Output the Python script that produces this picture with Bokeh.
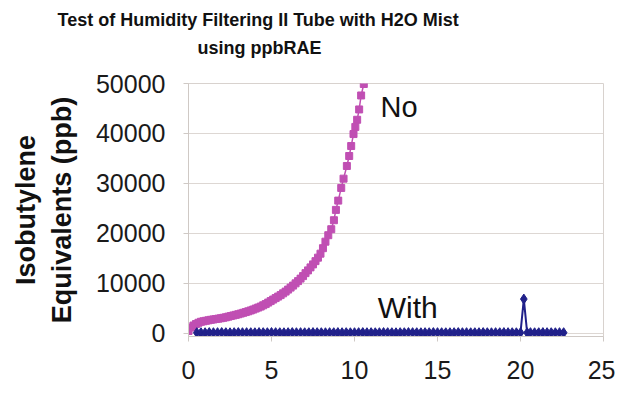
from bokeh.plotting import figure
from bokeh.models import Label, Range1d, FixedTicker, Title
from bokeh.embed import file_html
from bokeh.resources import INLINE

# ---- data ----
title_lines = ["Test of Humidity Filtering II Tube with H2O Mist", "using ppbRAE"]
y_title_lines = ["Isobutylene", "Equivalents (ppb)"]
x_ticks = [0, 5, 10, 15, 20, 25]
y_ticks = [0, 10000, 20000, 30000, 40000, 50000]

no_x = [0.00, 0.15, 0.30, 0.45, 0.60, 0.75, 0.90, 1.05, 1.20, 1.35, 1.50, 1.65, 1.80, 1.95,
        2.10, 2.25, 2.40, 2.55, 2.70, 2.85, 3.00, 3.15, 3.30, 3.45, 3.60, 3.75, 3.90, 4.05,
        4.20, 4.35, 4.50, 4.65, 4.80, 4.95, 5.10, 5.25, 5.40, 5.55, 5.70, 5.85, 6.00, 6.15,
        6.30, 6.45, 6.60, 6.75, 6.90, 7.05, 7.20, 7.35, 7.50, 7.65, 7.80, 7.95, 8.10, 8.25,
        8.42, 8.60, 8.76, 8.88, 9.02, 9.20, 9.34, 9.54, 9.68, 9.80, 9.94, 10.05, 10.16, 10.28,
        10.40, 10.56]
no_y = [400, 1100, 1500, 1800, 2050, 2250, 2350, 2450, 2550, 2650, 2720, 2800, 2880, 2960,
        3050, 3150, 3280, 3400, 3520, 3640, 3760, 3900, 4050, 4200, 4350, 4520, 4700, 4900,
        5100, 5300, 5550, 5800, 6100, 6400, 6700, 7000, 7300, 7600, 7950, 8300, 8700, 9100,
        9500, 9950, 10400, 10900, 11400, 12000, 12550, 13150, 13750, 14400, 15100, 15900, 17000, 18300,
        19600, 20800, 22600, 24670, 26530, 29070, 30930, 33470, 35470, 37470, 39870, 41300, 42730, 44800,
        47600, 49900]

with_x = [0.50, 0.75, 1.00, 1.25, 1.50, 1.75, 2.00, 2.25, 2.50, 2.75, 3.00, 3.25, 3.50, 3.75,
          4.00, 4.25, 4.50, 4.75, 5.00, 5.25, 5.50, 5.75, 6.00, 6.25, 6.50, 6.75, 7.00, 7.25,
          7.50, 7.75, 8.00, 8.25, 8.50, 8.75, 9.00, 9.25, 9.50, 9.75, 10.00, 10.25, 10.50, 10.75,
          11.00, 11.25, 11.50, 11.75, 12.00, 12.25, 12.50, 12.75, 13.00, 13.25, 13.50, 13.75,
          14.00, 14.25, 14.50, 14.75, 15.00, 15.25, 15.50, 15.75, 16.00, 16.25, 16.50, 16.75,
          17.00, 17.25, 17.50, 17.75, 18.00, 18.25, 18.50, 18.75, 19.00, 19.25, 19.50, 19.75,
          20.00, 20.20, 20.40, 20.60, 20.85, 21.10, 21.35, 21.60, 21.85, 22.10, 22.35, 22.60]
with_y = [60, 70, 50, 80, 60, 70, 90, 60, 50, 70, 80, 60, 70, 60,
          50, 80, 70, 60, 90, 70, 60, 50, 70, 80, 60, 70, 50, 60,
          80, 70, 60, 50, 70, 60, 80, 60, 70, 50, 60, 70, 80, 60,
          70, 50, 60, 80, 70, 60, 50, 70, 60, 80, 70, 60,
          50, 70, 60, 80, 70, 60, 50, 60, 70, 80, 60, 70,
          50, 60, 70, 80, 60, 50, 70, 60, 80, 70, 60, 50,
          70, 6800, 60, 70, 50, 60, 80, 70, 60, 50, 70, 60]

series_names = ["No", "With"]

# ---- figure ----
p = figure(width=615, height=403, output_backend="svg", toolbar_location=None,
           x_range=Range1d(0, 25), y_range=Range1d(-700, 50000),
           min_border_left=188, min_border_right=12, min_border_top=83, min_border_bottom=67)
p.background_fill_color = "white"
p.border_fill_color = "white"
p.outline_line_color = "#d8d2ce"

grid_col = "#ddd7d3"
p.xgrid.visible = False
p.ygrid.grid_line_color = grid_col
p.ygrid.ticker = FixedTicker(ticks=y_ticks)

p.xaxis.ticker = FixedTicker(ticks=x_ticks)
p.yaxis.ticker = FixedTicker(ticks=y_ticks)
for ax in (p.xaxis[0], p.yaxis[0]):
    ax.axis_line_color = "#cfc9c5"
    ax.major_tick_line_color = "#cfc9c5"
    ax.major_tick_out = 5
    ax.major_tick_in = 0
    ax.minor_tick_line_color = None
    ax.major_label_text_font = "Liberation Sans"
    ax.major_label_text_font_size = "25px"
    ax.major_label_text_color = "#1a1a1a"
p.xaxis.major_label_standoff = 19
p.yaxis.major_label_standoff = 18

yax = p.yaxis[0]
yax.axis_label = "\n".join(y_title_lines)
yax.axis_label_text_font = "Liberation Sans"
yax.axis_label_text_font_style = "bold"
yax.axis_label_text_font_size = "27px"
yax.axis_label_text_color = "#111111"
yax.axis_label_text_align = "center"
yax.axis_label_text_line_height = 1.2
yax.axis_label_standoff = 16

pink = "#c04fb3"
navy = "#21218a"

p.line(no_x, no_y, line_color=pink, line_width=1.5)
p.scatter(no_x, no_y, marker="square", size=7, fill_color=pink, line_color=pink)
p.line(with_x, with_y, line_color=navy, line_width=2)
p.scatter(with_x, with_y, marker="diamond", size=10, fill_color=navy, line_color=navy)

# series labels
p.add_layout(Label(x=11.57, y=45300, text=series_names[0], text_font="Liberation Sans",
                   text_font_size="29px", text_color="#111111", text_baseline="middle"))
p.add_layout(Label(x=11.4, y=5100, text=series_names[1], text_font="Liberation Sans",
                   text_font_size="30px", text_color="#111111", text_baseline="middle"))

# chart title: two lines (second line padded with an empty line to lift it)
p.title.text = title_lines[0]
p.title.offset = -131
p.title.standoff = 0
t2 = Title(text=title_lines[1] + "\n", offset=9, standoff=12)
for t in (p.title, t2):
    t.align = "left"
    t.text_font = "Liberation Sans"
    t.text_font_style = "bold"
    t.text_font_size = "18px"
    t.text_color = "#111111"
p.add_layout(t2, "above")

open("out.html", "w").write(file_html(p, INLINE))
